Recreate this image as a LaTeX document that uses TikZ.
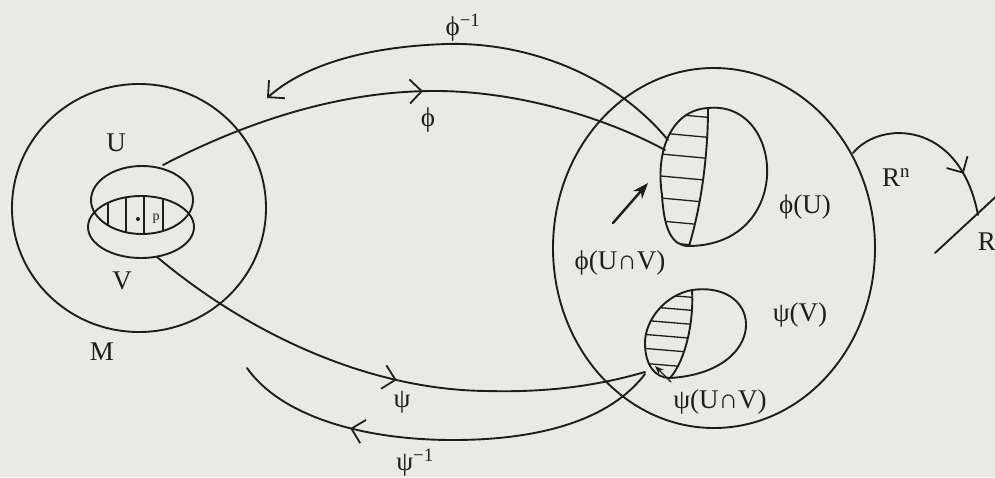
\documentclass[tikz,border=0pt]{standalone}
\usepackage{fontspec}
\setmainfont{Liberation Serif}
\usetikzlibrary{arrows.meta,decorations.markings}
\definecolor{paper}{RGB}{233,233,229}
\definecolor{ink}{RGB}{30,30,30}
\tikzset{
  barb/.tip={Straight Barb[length=12pt,width=24pt,line width=1.8pt]},
  midarrow/.style={postaction={decorate},decoration={markings,
    mark=at position #1 with {\arrow{barb}}}},
  lbl/.style={inner sep=0pt,font=\fontsize{27}{30}\selectfont},
  hatch/.style={line width=1.3pt}
}
\begin{document}
\begin{tikzpicture}[x=1pt,y=-1pt,line width=1.9pt,line join=round,line cap=round,color=ink]
\fill[paper] (0,0) rectangle (995,477);
\useasboundingbox (0,0) rectangle (995,477);
\path
(139,208)coordinate(M)
(142,200)coordinate(U)
(141,227)coordinate(V)
(714,248)coordinate(Rn)
(163,165)coordinate(uTop)
(157,257)coordinate(vBot)
(708,108)coordinate(tU)
(689,246)coordinate(bU)
(692,290)coordinate(tV)
(670,378)coordinate(bV)
(665,150)coordinate(phiEnd)
(668,140)coordinate(phiInvStart)
(267,98)coordinate(phiInvEnd)
(645,372)coordinate(psiEnd)
(645,374)coordinate(psiInvStart)
(247,368)coordinate(psiInvEnd)
(853,153)coordinate(rA)
(978,215)coordinate(rB)
(935,253)coordinate(lineA)
(1002,191)coordinate(lineB)
(613,223)coordinate(arA)
(648,183)coordinate(arB)
(671,382)coordinate(sarA)
(655,366)coordinate(sarB);
% the manifold and the two charts
\draw (M) ellipse [x radius=127,y radius=124];
\draw (U) ellipse [x radius=51,y radius=34];
\draw (V) ellipse [x radius=53,y radius=31];
\begin{scope}
\clip (U) ellipse [x radius=51,y radius=34];
\clip (V) ellipse [x radius=53,y radius=31];
\foreach \x in {108,126,144,163} \draw[hatch] (\x,180)--(\x,250);
\end{scope}
\fill (138,219) circle (2pt);
% R^n
\draw (Rn) ellipse [x radius=161,y radius=180];
\draw (tU) .. controls (672,110) and (655,150) .. (662,195) .. controls (664,230) and (672,246) .. (bU)
      .. controls (700,210) and (708,160) .. (tU);
\draw (tU) .. controls (785,100) and (795,245) .. (bU);
\begin{scope}
\clip (tU) .. controls (672,110) and (655,150) .. (662,195) .. controls (664,230) and (672,246) .. (bU)
      .. controls (700,210) and (708,160) .. (tU) -- cycle;
\foreach \y in {112,132,153,175,197,220,241} \draw[hatch] (650,\y)--(715,\y+6);
\end{scope}
\draw (tV) .. controls (665,295) and (645,320) .. (645,343) .. controls (645,365) and (655,378) .. (bV)
      .. controls (686,360) and (694,320) .. (tV);
\draw (tV) .. controls (765,280) and (770,372) .. (bV);
\begin{scope}
\clip (tV) .. controls (665,295) and (645,320) .. (645,343) .. controls (645,365) and (655,378) .. (bV)
      .. controls (686,360) and (694,320) .. (tV) -- cycle;
\foreach \y in {293,306,320,334,348,363} \draw[hatch] (640,\y)--(700,\y+5);
\end{scope}
\draw[line width=2.4pt,-{Stealth[length=16pt,width=12pt]}] (arA)--(arB);
\draw[line width=1.3pt,-{Stealth[length=9pt,width=7pt]}] (sarA)--(sarB);
% the maps
\draw[midarrow=0.52] (uTop) .. controls (250,120) and (340,92) .. (430,91) .. controls (520,90) and (610,120) .. (phiEnd);
\draw[-barb] (phiInvStart) .. controls (610,70) and (520,42) .. (447,44)
      .. controls (380,46) and (310,60) .. (phiInvEnd);
\draw[midarrow=0.52] (vBot) .. controls (250,335) and (370,390) .. (487,391) .. controls (560,393) and (610,382) .. (psiEnd);
\draw[midarrow=0.72] (psiInvStart) .. controls (610,420) and (540,440) .. (453,440) .. controls (360,440) and (280,415) .. (psiInvEnd);
\draw[midarrow=0.75] (rA) .. controls (880,120) and (960,120) .. (rB);
\draw (lineA)--(lineB);
% labels
\node[lbl] (lU) at (116,143) {U};
\node[lbl] (lV) at (122,281) {V};
\node[lbl] (lM) at (102,352) {M};
\node[inner sep=0pt,font=\fontsize{14}{16}\selectfont] (lp) at (156,219) {p};
\node[lbl] (lphi) at (428,120) {ϕ};
\node[lbl] (lphiInv) at (463,28) {ϕ\textsuperscript{−1}};
\node[lbl] (lpsi) at (402,402) {ψ};
\node[lbl] (lpsiInv) at (415,463) {ψ\textsuperscript{−1}};
\node[lbl] (lphiU) at (805,207) {ϕ(U)};
\node[lbl] (lpsiV) at (800,315) {ψ(V)};
\node[lbl] (lphiUV) at (620,263) {ϕ(U∩V)};
\node[lbl] (lpsiUV) at (720,402) {ψ(U∩V)};
\node[lbl] (lRn) at (896,178) {R\textsuperscript{n}};
\node[lbl,anchor=west] (lR) at (977,242) {R};
\end{tikzpicture}
\end{document}
